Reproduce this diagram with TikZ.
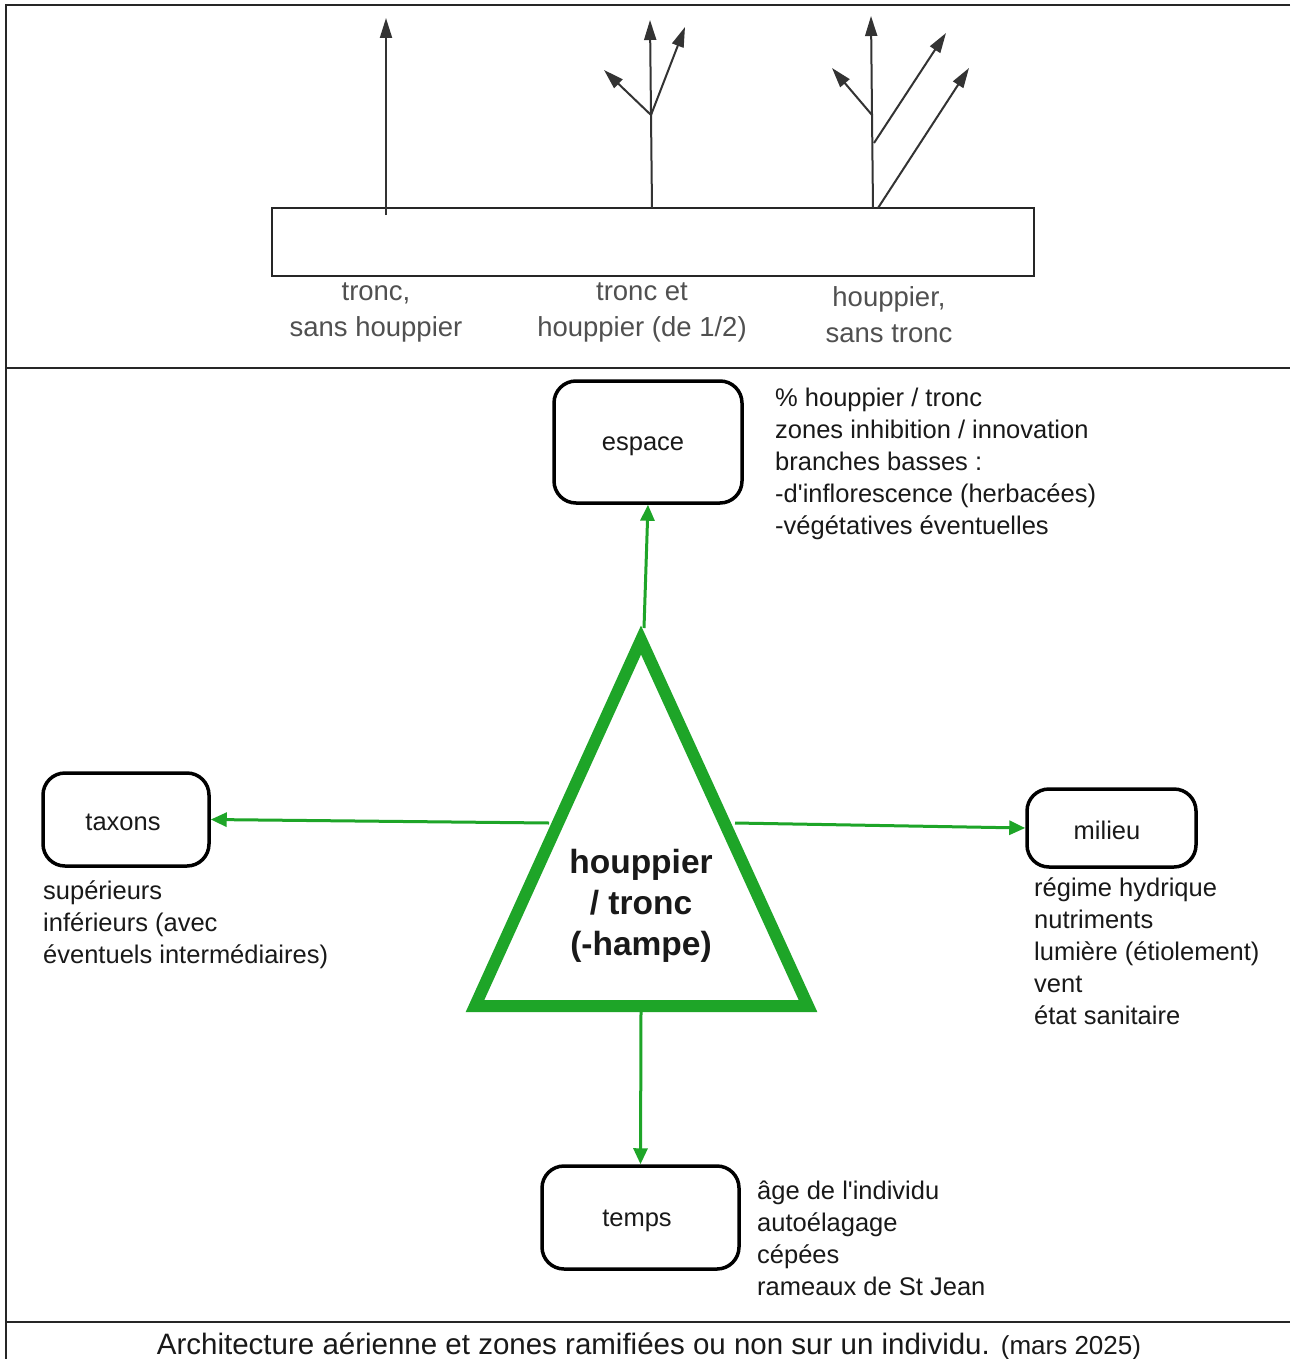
\documentclass[tikz,border=0pt]{standalone}
\usepackage{fontspec}
\setmainfont{Liberation Sans}
\usetikzlibrary{arrows.meta}
\definecolor{tgreen}{RGB}{30,165,40}
\definecolor{tgrey}{RGB}{80,80,80}
\definecolor{tink}{RGB}{25,25,25}
\begin{document}
\begin{tikzpicture}[x=1pt,y=-1pt,
  frame/.style={line width=2.5pt, draw=black!85},
  blackline/.style={line width=2pt, draw=black!80},
  blackarrow/.style={blackline, -{Triangle[length=20pt,width=12pt]}},
  grnarrow/.style={line width=3pt, draw=tgreen, -{Triangle[length=16pt,width=14pt]}},
  box/.style={draw=black, line width=3.5pt, rounded corners=22pt, inner sep=0pt},
  boxlabel/.style={font=\fontsize{25.5}{30}\selectfont, text=tink, inner sep=0pt},
  notes/.style={anchor=north west, inner sep=0pt, align=left,
                font=\fontsize{25.5}{32}\selectfont, text=tink},
  toplabel/.style={anchor=north, inner sep=0pt, align=center,
                   font=\fontsize{27.5}{36}\selectfont, text=tgrey},
]
\useasboundingbox (0,0) rectangle (1290,1359);
\fill[white] (0,0) rectangle (1290,1359);

% frames
\draw[frame] (1290,5) -- (6,5) -- (6,1359);
\draw[frame] (6,368) -- (1290,368);
\draw[frame] (6,1322) -- (1290,1322);

% ---------- top panel ----------
\node[draw=black!85, line width=2.5pt, minimum width=762pt, minimum height=68pt, inner sep=0pt] (bar) at (653,242) {};

% arrow 1
\coordinate (a1b) at (386,215);
\coordinate (a1t) at (386,18);
\draw[blackarrow] (a1b) -- (a1t);

% group 2
\coordinate (b2) at (652,208);
\coordinate (f2) at (651,115);
\coordinate (t2c) at (650,20);
\coordinate (t2r) at (685,27);
\coordinate (t2l) at (604,70);
\draw[blackline] (b2) -- (f2);
\draw[blackarrow] (f2) -- (t2c);
\draw[blackarrow] (f2) -- (t2r);
\draw[blackarrow] (f2) -- (t2l);

% group 3
\coordinate (b3) at (873,208);
\coordinate (f3) at (872,115);
\coordinate (m3) at (874,143);
\coordinate (t3c) at (871,16);
\coordinate (t3l) at (832,68);
\coordinate (t3m) at (946,33);
\coordinate (b3r) at (878,208);
\coordinate (t3r) at (969,68);
\draw[blackline] (b3) -- (f3);
\draw[blackarrow] (f3) -- (t3c);
\draw[blackarrow] (f3) -- (t3l);
\draw[blackarrow] (m3) -- (t3m);
\draw[blackarrow] (b3r) -- (t3r);

\node[toplabel] (l1) at (376,283) {tronc,\\sans houppier};
\node[toplabel] (l2) at (642,283) {tronc et\\houppier (de 1/2)};
\node[toplabel] (l3) at (889,286) {houppier,\\sans tronc};

% ---------- lower panel ----------
\node[box, minimum width=188pt, minimum height=122pt] (espace) at (648,442) {};
\node[box, minimum width=166pt, minimum height=93pt] (taxons) at (126,819.5) {};
\node[box, minimum width=169pt, minimum height=78pt] (milieu) at (1111.5,828) {};
\node[box, minimum width=197pt, minimum height=103pt] (temps) at (640.5,1217.5) {};
\node[boxlabel] (espaceT) at (643,446) {espace};
\node[boxlabel] (taxonsT) at (123,822) {taxons};
\node[boxlabel] (milieuT) at (1107,830) {milieu};
\node[boxlabel] (tempsT) at (637,1221) {temps};

% triangle anchor points
\coordinate (tA) at (641,640);
\coordinate (tL) at (475,1006);
\coordinate (tR) at (808,1006);
\coordinate (sTop) at (644,628);
\coordinate (sLeft) at (549,823);
\coordinate (sRight) at (735,823);
\coordinate (sBot) at (641,1012);

\draw[grnarrow] (sTop) -- (espace.south);
\draw[grnarrow] (sLeft) -- (taxons.east);
\draw[grnarrow] (sRight) -- (milieu.west);
\draw[grnarrow] (sBot) -- (temps.north);

\draw[tgreen, line width=12pt, line join=miter] (tA) -- (tL) -- (tR) -- cycle;
\node[font=\bfseries\fontsize{33.5}{41}\selectfont, align=center, text=tink] (tri) at (641,906) {houppier\\ / tronc\\(-hampe)};

% notes
\node[notes] (nesp) at (775,388) {\% houppier / tronc\\zones inhibition / innovation\\branches basses :\\-d\textquotesingle inflorescence (herbacées)\\-végétatives éventuelles};
\node[notes] (ntax) at (43,881) {supérieurs\\inférieurs (avec\\éventuels intermédiaires)};
\node[notes] (nmil) at (1034,878) {régime hydrique\\nutriments\\lumière (étiolement)\\vent\\état sanitaire};
\node[notes] (ntmp) at (757,1181) {âge de l\textquotesingle individu\\autoélagage\\cépées\\rameaux de St Jean};

% caption
\node[anchor=base, inner sep=0pt, font=\fontsize{29.5}{30}\selectfont, text=tink] (cap) at (649,1354)
  {Architecture aérienne et zones ramifiées ou non sur un individu. {\fontsize{26}{26}\selectfont (mars 2025)}};
\end{tikzpicture}
\end{document}
